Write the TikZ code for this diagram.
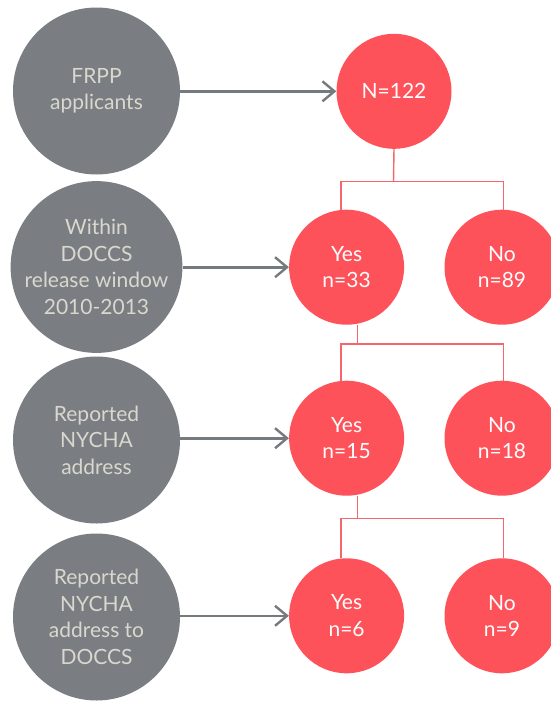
\documentclass[tikz,border=0pt]{standalone}
\usepackage{fontspec}
\setmainfont{Lato}
\usetikzlibrary{arrows.meta}
\definecolor{grayfill}{HTML}{7A7E82}
\definecolor{graytext}{HTML}{D9D8CF}
\definecolor{redfill}{HTML}{FE525A}
\definecolor{redline}{HTML}{F2666C}
\definecolor{arrowgray}{HTML}{747A7E}
\begin{document}
\begin{tikzpicture}[x=1pt,y=-1pt,
  q/.style={circle,fill=grayfill,minimum size=167pt,inner sep=0pt,text=graytext,align=center,
    font=\fontsize{21}{26.5}\selectfont},
  r/.style={circle,fill=redfill,minimum size=115pt,inner sep=0pt,text=white,align=center,
    font=\fontsize{21}{26.5}\selectfont},
  arr/.style={draw=arrowgray,line width=2.6pt,-{Straight Barb[length=12pt,width=20pt,line width=2.4pt]}},
  conn/.style={draw=redline,line width=1.4pt}]
\useasboundingbox (0,0) rectangle (551,702);
% gray question circles
\node[q] (g1) at (96.5,91) {FRPP\\applicants};
\node[q] (g2) at (96.5,267) {Within\\DOCCS\\release window\\2010-2013};
\node[q] (g3) at (96.5,440) {Reported\\NYCHA\\address};
\node[q] (g4) at (96.5,617) {Reported\\NYCHA\\address to\\DOCCS};
% red answer circles
\node[r] (r1) at (394,91.3) {N=122};
\node[r] (y2) at (346.6,267.2) {Yes\\n=33};
\node[r] (n2) at (502,267.2) {No\\n=89};
\node[r] (y3) at (346.6,438.2) {Yes\\n=15};
\node[r] (n3) at (502,438.2) {No\\n=18};
\node[r] (y4) at (346.6,615.8) {Yes\\n=6};
\node[r] (n4) at (502,615.8) {No\\n=9};
% arrows
\draw[arr] (g1.east |- r1.west) -- (r1.west);
\draw[arr] (g2.east |- y2.west) -- (y2.west);
\draw[arr] (g3.east |- y3.west) -- (y3.west);
\draw[arr] (g4.east |- y4.west) -- (y4.west);
% tree connectors
\coordinate (h1) at (393.5,181.7);
\coordinate (h2) at (357.3,344);
\coordinate (h3) at (357.3,518.3);
\draw[conn] (r1.south) -- (h1);
\draw[conn] ([xshift=-5.8pt]y2.north) |- ([xshift=1.2pt]n2.north |- h1) -- ([xshift=1.2pt]n2.north);
\draw[conn] ([xshift=10.7pt]y2.south) -- (h2);
\draw[conn] ([xshift=-5.8pt]y3.north) |- ([xshift=1.2pt]n3.north |- h2) -- ([xshift=1.2pt]n3.north);
\draw[conn] ([xshift=10.7pt]y3.south) -- (h3);
\draw[conn] ([xshift=-5.8pt]y4.north) |- ([xshift=1.2pt]n4.north |- h3) -- ([xshift=1.2pt]n4.north);
\end{tikzpicture}
\end{document}
